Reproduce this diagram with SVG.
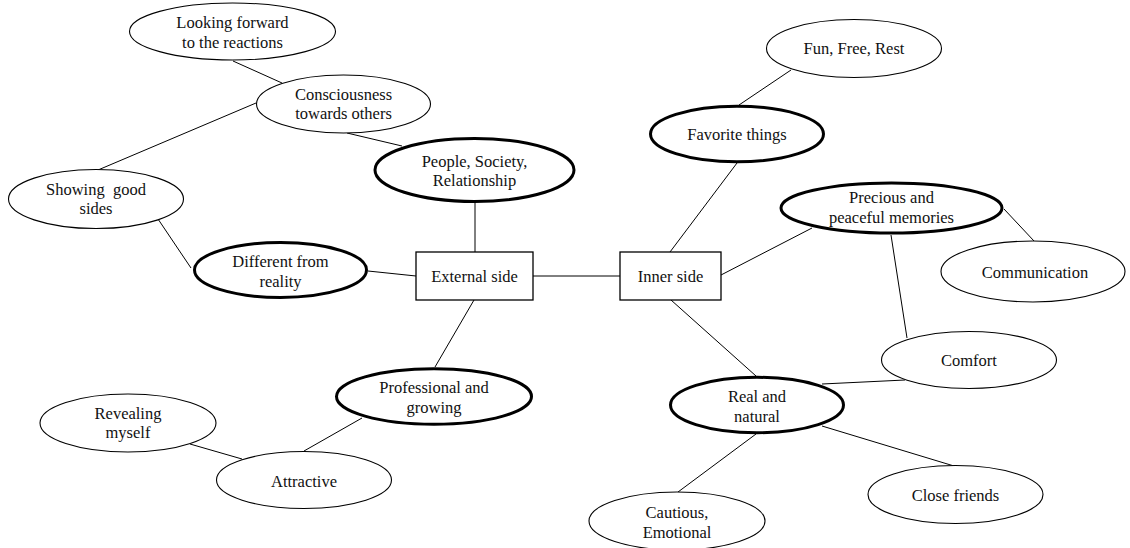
<svg xmlns="http://www.w3.org/2000/svg" width="1130" height="548" viewBox="0 0 1130 548">
<style>
.bg{fill:#fff}
.n{fill:#fff;stroke:#000;stroke-width:1.1}
.b{fill:#fff;stroke:#000;stroke-width:3}
.r{fill:#fff;stroke:#000;stroke-width:1.3}
.c line{stroke:#000;stroke-width:1}
text{font-family:"Liberation Serif","Times New Roman",serif;font-size:16.5px;fill:#111;text-anchor:middle}
</style>
<rect class="bg" x="0" y="0" width="1130" height="548"/>
<g class="c" id="connectors">
<line x1="233" y1="61" x2="282" y2="83"/>
<line x1="256" y1="103" x2="98" y2="170"/>
<line x1="347" y1="133" x2="402" y2="146"/>
<line x1="158" y1="219" x2="191" y2="268"/>
<line x1="368" y1="271" x2="416" y2="276"/>
<line x1="475" y1="203" x2="475" y2="252"/>
<line x1="533" y1="276" x2="620" y2="276"/>
<line x1="474" y1="300" x2="435" y2="367"/>
<line x1="362" y1="418" x2="304" y2="451"/>
<line x1="190" y1="444" x2="242" y2="459"/>
<line x1="791" y1="70" x2="739" y2="105"/>
<line x1="737" y1="163" x2="670" y2="252"/>
<line x1="721" y1="275" x2="812" y2="228"/>
<line x1="1004" y1="209" x2="1034" y2="241"/>
<line x1="891" y1="235" x2="907" y2="338"/>
<line x1="671" y1="300" x2="756" y2="376"/>
<line x1="822" y1="384" x2="905" y2="380"/>
<line x1="822" y1="426" x2="954" y2="466"/>
<line x1="756" y1="434" x2="678" y2="492"/>
</g>
<g id="looking"><ellipse class="n" cx="232.5" cy="31.5" rx="103" ry="28.5"/><text x="232.5" y="28.3">Looking forward</text><text x="232.5" y="47.7">to the reactions</text></g>
<g id="conscious"><ellipse class="n" cx="343.5" cy="104" rx="87" ry="29"/><text x="343.5" y="100">Consciousness</text><text x="343.5" y="119.3">towards others</text></g>
<g id="people"><ellipse class="b" cx="474.5" cy="170" rx="99.5" ry="31.5"/><text x="474.5" y="166.7">People, Society,</text><text x="474.5" y="186">Relationship</text></g>
<g id="showing"><ellipse class="n" cx="96" cy="199" rx="87.5" ry="29.5"/><text x="96" y="195" style="white-space:pre">Showing  good</text><text x="96" y="214.3">sides</text></g>
<g id="different"><ellipse class="b" cx="280.5" cy="270" rx="86" ry="27.5"/><text x="280.5" y="266.7">Different from</text><text x="280.5" y="286.7">reality</text></g>
<g id="external"><rect class="r" x="416" y="252" width="117" height="48"/><text x="474.5" y="281.7">External side</text></g>
<g id="inner"><rect class="r" x="620" y="252" width="101" height="48"/><text x="670.5" y="281.7">Inner side</text></g>
<g id="fun"><ellipse class="n" cx="854" cy="48.5" rx="87.5" ry="29"/><text x="854" y="54.3">Fun, Free, Rest</text></g>
<g id="favorite"><ellipse class="b" cx="737" cy="134" rx="86.5" ry="27.8"/><text x="737" y="140">Favorite things</text></g>
<g id="precious"><ellipse class="b" cx="891.5" cy="208" rx="110.5" ry="25"/><text x="891.5" y="203.3">Precious and</text><text x="891.5" y="222.7">peaceful memories</text></g>
<g id="communication"><ellipse class="n" cx="1033" cy="271.5" rx="92" ry="30.5"/><text x="1035" y="277.7">Communication</text></g>
<g id="comfort"><ellipse class="n" cx="969" cy="360" rx="87.5" ry="28.5"/><text x="969" y="366">Comfort</text></g>
<g id="real"><ellipse class="b" cx="757" cy="405" rx="86.5" ry="27.7"/><text x="757" y="401.7">Real and</text><text x="757" y="421.7">natural</text></g>
<g id="close"><ellipse class="n" cx="955.5" cy="494.5" rx="87.5" ry="29"/><text x="955.5" y="501">Close friends</text></g>
<g id="cautious"><ellipse class="n" cx="677" cy="521" rx="88" ry="29"/><text x="677" y="518.3">Cautious,</text><text x="677" y="538.3">Emotional</text></g>
<g id="professional"><ellipse class="b" cx="434" cy="396.5" rx="97.5" ry="27.7"/><text x="434" y="393.3">Professional and</text><text x="434" y="413.3">growing</text></g>
<g id="revealing"><ellipse class="n" cx="128" cy="423" rx="88" ry="29"/><text x="128" y="419.3">Revealing</text><text x="128" y="437.7">myself</text></g>
<g id="attractive"><ellipse class="n" cx="304" cy="480" rx="87.5" ry="28.5"/><text x="304" y="486.7">Attractive</text></g>
</svg>
